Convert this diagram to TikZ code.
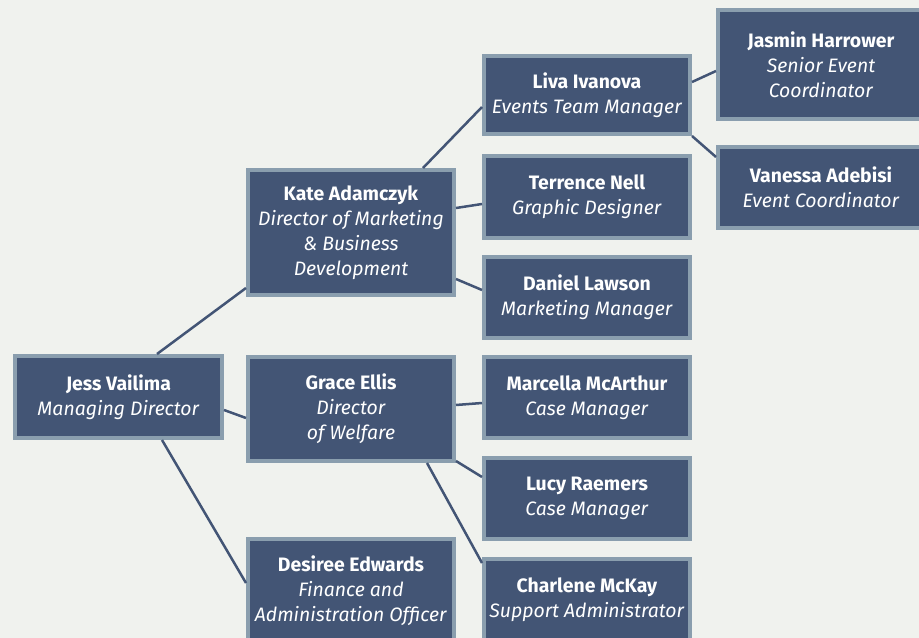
\documentclass[tikz,border=0pt]{standalone}
\usepackage{fontspec}
\setmainfont{Fira Sans}
\usepackage{tikz}

\definecolor{pagebg}{RGB}{240,242,238}
\definecolor{boxfill}{RGB}{67,85,117}
\definecolor{boxedge}{RGB}{138,158,174}
\definecolor{linkblue}{RGB}{67,85,117}

\tikzset{
  staff/.style={shape=rectangle, draw=boxedge, fill=boxfill, line width=4bp,
    text=white, align=center, inner sep=0pt, minimum width=206bp,
    font=\fontsize{19.5}{25}\selectfont},
  link/.style={draw=linkblue, line width=2.5bp},
}

\begin{document}
\begin{tikzpicture}[x=1bp, y=-1bp]
    \fill[pagebg] (0,0) rectangle (919,638);
    \useasboundingbox (0,0) rectangle (919,638);

	\node[staff, minimum width=207bp, minimum height=82bp] (jess) at (118.5,397) {\textbf{Jess Vailima}\\\textit{Managing Director}};
    \node[staff, minimum height=125bp] (kate) at (351,232.5) {\textbf{Kate Adamczyk}\\\textit{Director of Marketing}\\\textit{\& Business}\\\textit{Development}};
    \node[staff, minimum height=104bp] (grace) at (351,409) {\textbf{Grace Ellis}\\\textit{Director}\\\textit{of Welfare}};
    \node[staff, minimum height=104bp] (desiree) at (351,591) {\textbf{Desiree Edwards}\\\textit{Finance and}\\\textit{Administration Officer}};
    \node[staff, minimum height=78bp] (liva) at (587,95) {\textbf{Liva Ivanova}\\\textit{Events Team Manager}};
    \node[staff, minimum height=82bp] (terrence) at (587,197) {\textbf{Terrence Nell}\\\textit{Graphic Designer}};
    \node[staff, minimum height=81bp] (daniel) at (587,297.5) {\textbf{Daniel Lawson}\\\textit{Marketing Manager}};
    \node[staff, minimum height=81bp] (marcella) at (587,397.5) {\textbf{Marcella McArthur}\\\textit{Case Manager}};
    \node[staff, minimum height=81bp] (lucy) at (587,498.5) {\textbf{Lucy Raemers}\\\textit{Case Manager}};
    \node[staff, minimum height=82bp] (charlene) at (587,600) {\textbf{Charlene McKay}\\\textit{Support Administrator}};
    \node[staff, minimum height=109bp] (jasmin) at (821,64.5) {\textbf{Jasmin Harrower}\\\textit{Senior Event}\\\textit{Coordinator}};
    \node[staff, minimum height=81bp] (vanessa) at (821,187.5) {\textbf{Vanessa Adebisi}\\\textit{Event Coordinator}};

    \path[link] ([xshift=38.5bp]jess.north) -- ([yshift=9bp]kate.south west);
    \path[link] ([yshift=-13bp]jess.east) -- ([yshift=-9bp]grace.west);
    \path[link] ([xshift=43.5bp]jess.south) -- ([yshift=8bp]desiree.west);

    \path[link] ([xshift=72bp]kate.north) -- ([yshift=-12bp]liva.west);
    \path[link] ([yshift=24.5bp]kate.east) -- ([yshift=-7bp]terrence.west);
    \path[link] ([yshift=-46.5bp]kate.east) -- ([yshift=7.5bp]daniel.west);

    \path[link] ([yshift=4bp]grace.east) -- ([yshift=-5.5bp]marcella.west);
    \path[link] ([yshift=-52bp]grace.east) -- ([yshift=21.5bp]lucy.west);
    \path[link] ([xshift=76bp]grace.south) -- ([yshift=37bp]charlene.west);

    \path[link] ([yshift=13bp]liva.east) -- ([yshift=-6.5bp]jasmin.west);
    \path[link] ([yshift=-41bp]liva.east) -- ([yshift=30.5bp]vanessa.west);

\end{tikzpicture}
\end{document}
